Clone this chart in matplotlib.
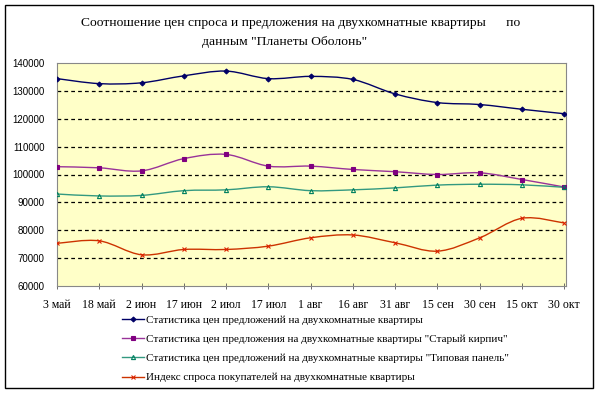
import matplotlib
matplotlib.use("Agg")
import matplotlib.pyplot as plt
import numpy as np
from matplotlib.path import Path
from matplotlib.patches import PathPatch, Rectangle
from matplotlib.lines import Line2D

categories = ["3 май", "18 май", "2 июн", "17 июн", "2 июл", "17 июл", "1 авг",
              "16 авг", "31 авг", "15 сен", "30 сен", "15 окт", "30 окт"]
s_total = [134400, 132600, 132900, 135400, 137100, 134400, 135200,
           134100, 128900, 125800, 125100, 123400, 121800]
s_brick = [102800, 102400, 101300, 105700, 107200, 103000, 103000,
           101800, 101000, 100000, 100600, 98200, 95500]
s_panel = [93000, 92300, 92500, 94200, 94500, 95600, 94200,
           94500, 95200, 96200, 96500, 96300, 95400]
s_demand = [75300, 76200, 71200, 73100, 73100, 74300, 77300,
            78300, 75500, 72500, 77300, 84300, 82600]
labels = ["Статистика цен предложений на двухкомнатные квартиры",
          "Статистика цен предложения на двухкомнатные квартиры \"Старый кирпич\"",
          "Статистика цен предложений на двухкомнатные квартиры \"Типовая панель\"",
          "Индекс спроса покупателей на двухкомнатные квартиры"]
title_line1 = "Соотношение цен спроса и предложения на двухкомнатные квартиры      по"
title_line2 = "данным \"Планеты Оболонь\""

fig = plt.figure(figsize=(6.0, 3.94), dpi=100)
fig.patch.set_facecolor("white")
fig.patches.append(Rectangle((5/600, 1-388/394), 588/600, 383/394, transform=fig.transFigure,
                             fill=False, edgecolor="black", linewidth=1.0))

ax = fig.add_axes([57/600, 1-286/394, 509/600, 223/394])
ax.set_facecolor("#FFFFC8")
x = np.arange(len(categories))


def smooth_path(xs, ys):
    xs = np.asarray(xs, float)
    ys = np.asarray(ys, float)
    n = len(xs)
    verts = [(xs[0], ys[0])]
    codes = [Path.MOVETO]
    for i in range(n - 1):
        i0 = max(i - 1, 0)
        i3 = min(i + 2, n - 1)
        c1 = (xs[i] + (xs[i + 1] - xs[i0]) / 6, ys[i] + (ys[i + 1] - ys[i0]) / 6)
        c2 = (xs[i + 1] - (xs[i3] - xs[i]) / 6, ys[i + 1] - (ys[i3] - ys[i]) / 6)
        verts += [c1, c2, (xs[i + 1], ys[i + 1])]
        codes += [Path.CURVE4] * 3
    return Path(verts, codes)


series = [
    (s_total, "#000066", "#000066", "D", 2.5),
    (s_brick, "#993399", "#800080", "s", 2.5),
    (s_panel, "#339980", "#008060", "^", 3),
    (s_demand, "#CC3300", "#DD2200", "x", 3.5),
]
handles = []
for (vals, lc, mc, mk, ms), lab in zip(series, labels):
    ax.add_patch(PathPatch(smooth_path(x, vals), fill=False, edgecolor=lc, linewidth=1.0, zorder=3))
    ax.plot(x, vals, linestyle="none", marker=mk, markersize=ms, color=mc,
            markerfacecolor=mc if mk != "^" else "none", markeredgewidth=0.8, zorder=4)
    handles.append(Line2D([], [], color=lc, marker=mk, markersize=ms,
                          markerfacecolor=mc if mk != "^" else "none", markeredgecolor=mc,
                          markeredgewidth=0.8, linewidth=1.0))

ax.set_xlim(0, len(categories) - 1 + 0.04)
ax.set_ylim(60000, 140000)
ax.set_yticks(np.arange(60000, 140001, 10000))
ax.set_yticklabels([str(v) for v in range(60000, 140001, 10000)],
                   fontfamily="Liberation Sans", fontsize=7)
ax.set_xticks(x)
ax.set_xticklabels(categories, fontfamily="Liberation Serif", fontsize=8.5)
ax.tick_params(axis="x", direction="inout", length=4, width=0.6, colors="#555555",
               labelcolor="black", pad=7)
ax.tick_params(axis="y", length=0, pad=9)
for v in range(70000, 140000, 10000):
    ax.axhline(v, color="black", linestyle=(0, (3, 2.5)), linewidth=0.9, zorder=1)
for sp in ax.spines.values():
    sp.set_color("#888888")
    sp.set_linewidth(0.8)

fig.text(301/600, 1-23/394, title_line1, ha="center", va="center",
         fontfamily="Liberation Serif", fontsize=9.7)
fig.text(285/600, 1-42/394, title_line2, ha="center", va="center",
         fontfamily="Liberation Serif", fontsize=9.7)

leg = fig.legend(handles, labels, loc="upper left", bbox_to_anchor=(122/600, 1-315/394),
                 frameon=False, prop={"family": "Liberation Serif", "size": 8},
                 handlelength=2.0, handletextpad=0.15, labelspacing=0.85, borderpad=0,
                 borderaxespad=0)

fig.savefig("out.png", dpi=100)
